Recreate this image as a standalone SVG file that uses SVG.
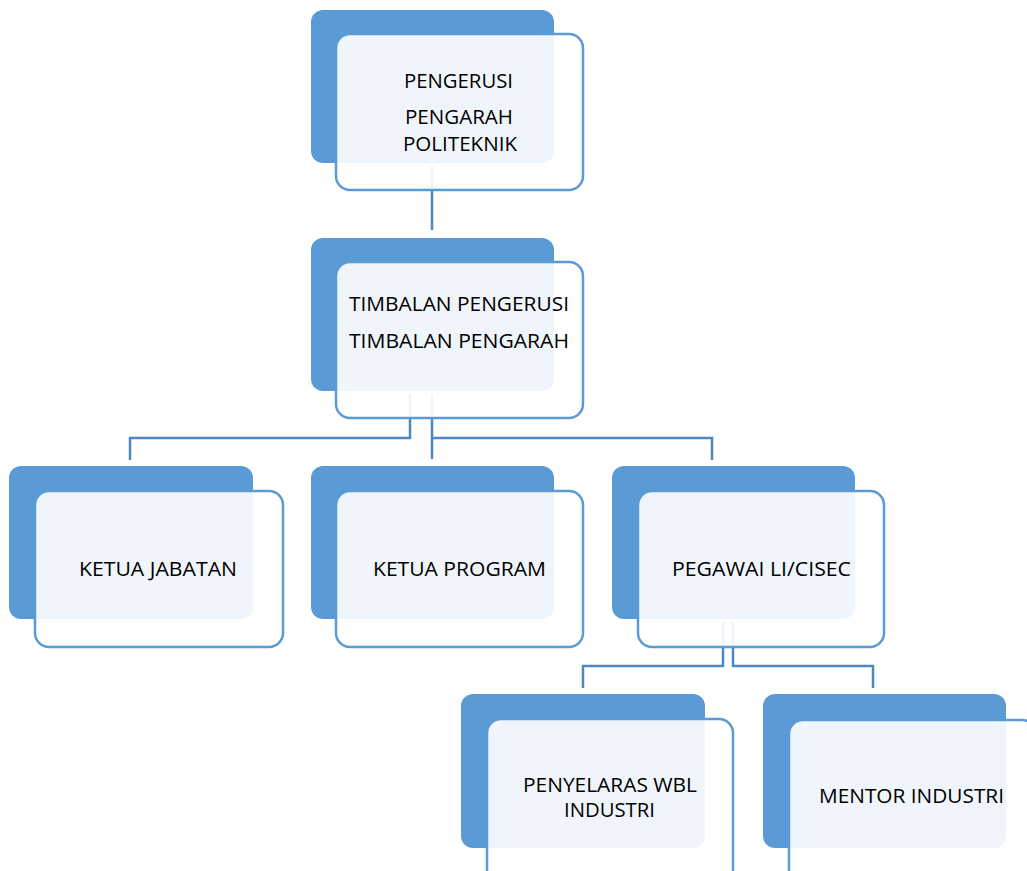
<svg xmlns="http://www.w3.org/2000/svg" width="1027" height="871" viewBox="0 0 1027 871">
<style>
.back{fill:#5B9BD5;}
.front{fill:#FFFFFF;fill-opacity:0.9;stroke:#5B9BD5;stroke-width:2.5;}
.conn{fill:none;stroke:#4F87C0;stroke-width:2.5;}
text{font-family:"Open Sans","Liberation Sans",sans-serif;font-size:20px;fill:#000000;}
</style>
<rect width="1027" height="871" fill="#FFFFFF"/>
<g id="backs">
<rect class="back" x="311" y="10" width="243" height="153" rx="12"/>
<rect class="back" x="311" y="238" width="243" height="153" rx="12"/>
<rect class="back" x="9" y="466" width="244" height="153" rx="12"/>
<rect class="back" x="311" y="466" width="243" height="153" rx="12"/>
<rect class="back" x="612" y="466" width="243" height="153" rx="12"/>
<rect class="back" x="461" y="694" width="244" height="154" rx="12"/>
<rect class="back" x="763" y="694" width="243" height="154" rx="12"/>
</g>
<g id="connectors">
<path class="conn" d="M432 166 V230"/>
<path class="conn" d="M410 394 V438 H130 V460"/>
<path class="conn" d="M432 394 V459"/>
<path class="conn" d="M432 438 H712 V460"/>
<path class="conn" d="M723 622 V666 H583 V688"/>
<path class="conn" d="M733 622 V666 H873 V688"/>
</g>
<g id="node-pengerusi">
<rect class="front" x="336" y="34" width="247" height="156" rx="14"/>
<text x="404" y="88" textLength="109" lengthAdjust="spacingAndGlyphs">PENGERUSI</text>
<text x="405" y="124" textLength="108" lengthAdjust="spacingAndGlyphs">PENGARAH</text>
<text x="403" y="151" textLength="114" lengthAdjust="spacingAndGlyphs">POLITEKNIK</text>
</g>
<g id="node-timbalan">
<rect class="front" x="336" y="262" width="247" height="156" rx="14"/>
<text x="349" y="311" textLength="220" lengthAdjust="spacingAndGlyphs">TIMBALAN PENGERUSI</text>
<text x="349" y="348" textLength="220" lengthAdjust="spacingAndGlyphs">TIMBALAN PENGARAH</text>
</g>
<g id="node-ketua-jabatan">
<rect class="front" x="35" y="491" width="248" height="156" rx="14"/>
<text x="79" y="576" textLength="158" lengthAdjust="spacingAndGlyphs">KETUA JABATAN</text>
</g>
<g id="node-ketua-program">
<rect class="front" x="336" y="491" width="247" height="156" rx="14"/>
<text x="373" y="576" textLength="173" lengthAdjust="spacingAndGlyphs">KETUA PROGRAM</text>
</g>
<g id="node-pegawai">
<rect class="front" x="638" y="491" width="246" height="156" rx="14"/>
<text x="672" y="576" textLength="179" lengthAdjust="spacingAndGlyphs">PEGAWAI LI/CISEC</text>
</g>
<g id="node-penyelaras">
<rect class="front" x="487" y="719" width="246" height="170" rx="14"/>
<text x="523" y="792" textLength="174" lengthAdjust="spacingAndGlyphs">PENYELARAS WBL</text>
<text x="564" y="817" textLength="91" lengthAdjust="spacingAndGlyphs">INDUSTRI</text>
</g>
<g id="node-mentor">
<rect class="front" x="789" y="720" width="247" height="170" rx="14"/>
<text x="819" y="803" textLength="185" lengthAdjust="spacingAndGlyphs">MENTOR INDUSTRI</text>
</g>
</svg>
